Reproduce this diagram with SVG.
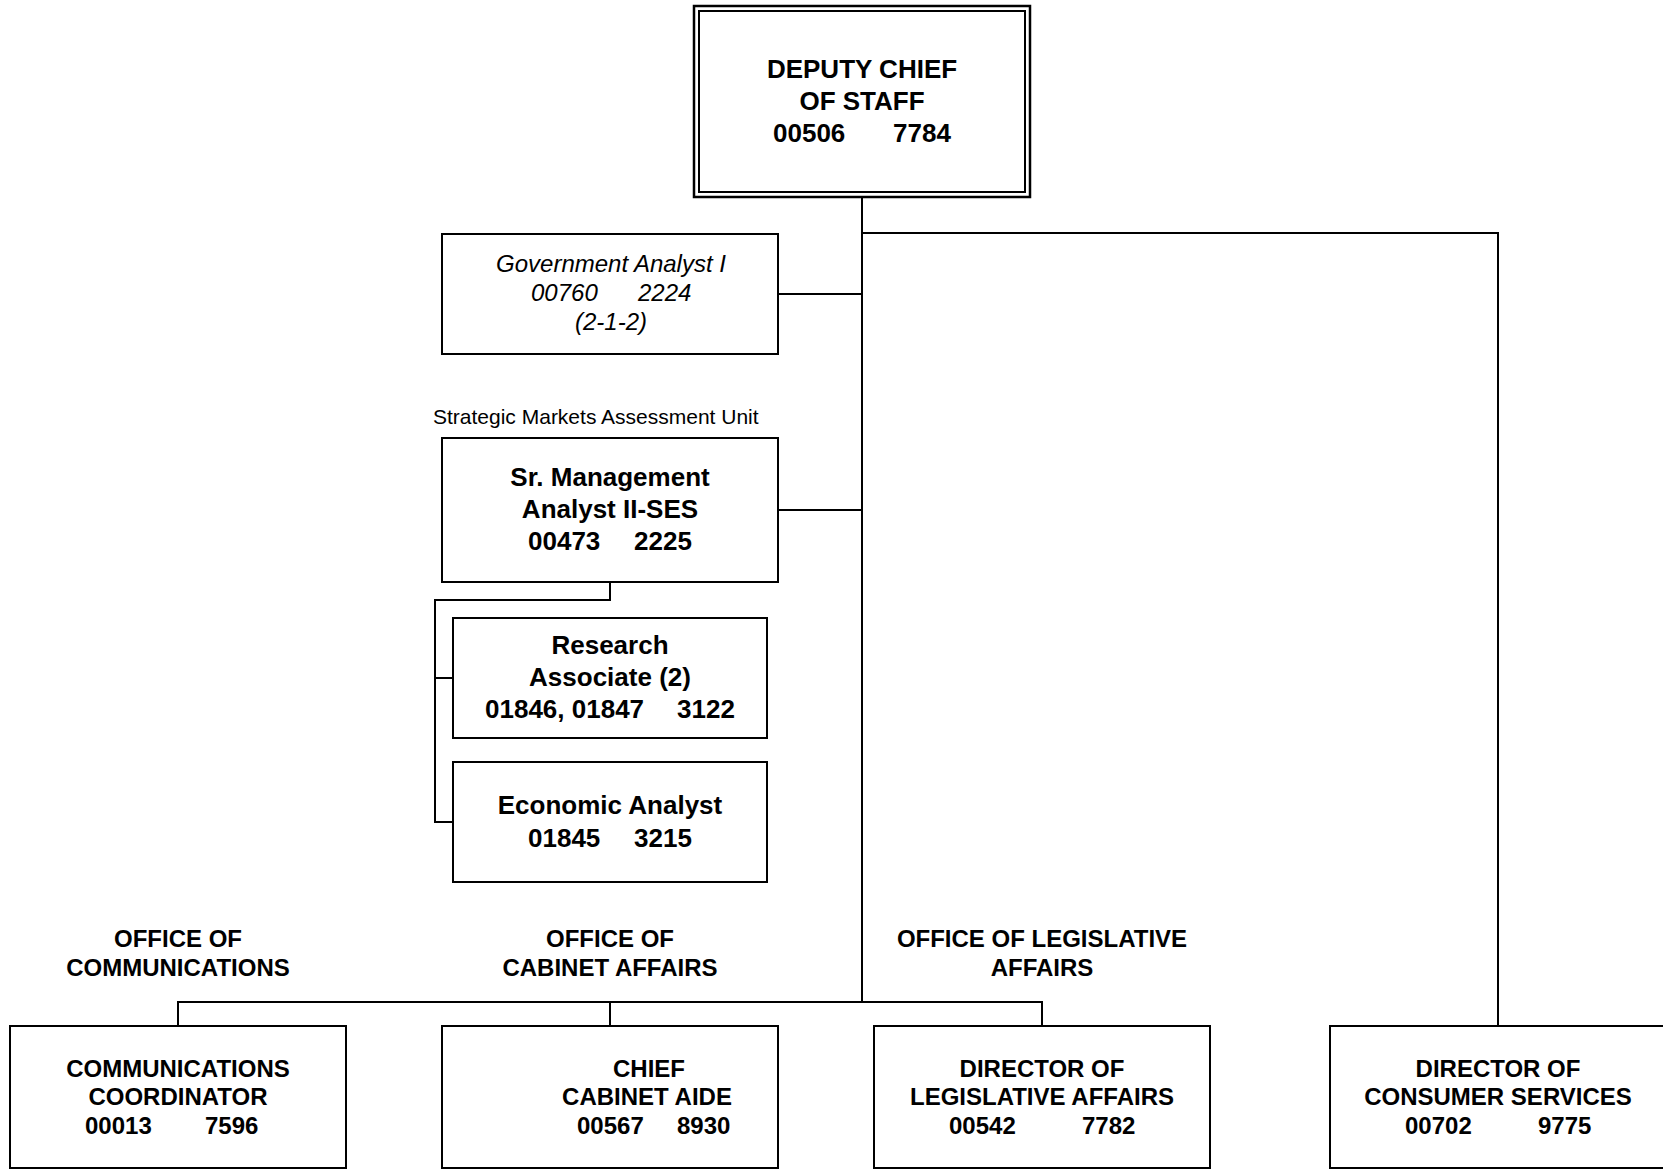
<svg xmlns="http://www.w3.org/2000/svg" width="1663" height="1170" viewBox="0 0 1663 1170">
  <style>
    .box { fill: #ffffff; stroke: #000000; stroke-width: 2; }
    .line { fill: none; stroke: #000000; stroke-width: 2; }
    text { font-family: "Liberation Sans", Arial, sans-serif; fill: #000000; }
    .b26 { font-size: 26px; font-weight: bold; }
    .b24 { font-size: 24px; font-weight: bold; }
    .it { font-size: 24px; font-style: italic; }
    .unit { font-size: 21px; }
    .c { text-anchor: middle; }
  </style>
  <rect width="1663" height="1170" fill="#ffffff"/>

  <!-- reporting lines -->
  <g id="connectors">
    <path class="line" d="M862,197 V1002"/>
    <path class="line" d="M862,233 H1498 V1026"/>
    <path class="line" d="M778,294 H862"/>
    <path class="line" d="M778,510 H862"/>
    <path class="line" d="M610,582 V600 H435 V822 H453"/>
    <path class="line" d="M435,678 H453"/>
    <path class="line" d="M178,1026 V1002 H1042 V1026"/>
    <path class="line" d="M610,1002 V1026"/>
  </g>

  <!-- top position, double border -->
  <g id="deputy-chief-of-staff">
    <rect x="694" y="6" width="336" height="191" fill="#ffffff" stroke="#000" stroke-width="2.5"/>
    <rect x="699" y="11" width="326" height="181" fill="none" stroke="#000" stroke-width="2"/>
    <text class="b26 c" x="862" y="78">DEPUTY CHIEF</text>
    <text class="b26 c" x="862" y="110">OF STAFF</text>
    <text class="b26" x="773" y="142">00506</text>
    <text class="b26" x="893" y="142">7784</text>
  </g>

  <g id="government-analyst">
    <rect class="box" x="442" y="234" width="336" height="120"/>
    <text class="it c" x="611" y="272">Government Analyst I</text>
    <text class="it" x="531" y="301">00760</text>
    <text class="it" x="638" y="301">2224</text>
    <text class="it c" x="611" y="330">(2-1-2)</text>
  </g>

  <text id="unit-label" class="unit" x="433" y="424">Strategic Markets Assessment Unit</text>

  <g id="sr-management-analyst">
    <rect class="box" x="442" y="438" width="336" height="144"/>
    <text class="b26 c" x="610" y="486">Sr. Management</text>
    <text class="b26 c" x="610" y="518">Analyst II-SES</text>
    <text class="b26" x="528" y="550">00473</text>
    <text class="b26" x="634" y="550">2225</text>
  </g>

  <g id="research-associate">
    <rect class="box" x="453" y="618" width="314" height="120"/>
    <text class="b26 c" x="610" y="654">Research</text>
    <text class="b26 c" x="610" y="686">Associate (2)</text>
    <text class="b26" x="485" y="718">01846, 01847</text>
    <text class="b26" x="677" y="718">3122</text>
  </g>

  <g id="economic-analyst">
    <rect class="box" x="453" y="762" width="314" height="120"/>
    <text class="b26 c" x="610" y="814">Economic Analyst</text>
    <text class="b26" x="528" y="847">01845</text>
    <text class="b26" x="634" y="847">3215</text>
  </g>

  <!-- office headings -->
  <g id="office-labels">
    <text class="b24 c" x="178" y="947">OFFICE OF</text>
    <text class="b24 c" x="178" y="976">COMMUNICATIONS</text>
    <text class="b24 c" x="610" y="947">OFFICE OF</text>
    <text class="b24 c" x="610" y="976">CABINET AFFAIRS</text>
    <text class="b24 c" x="1042" y="947">OFFICE OF LEGISLATIVE</text>
    <text class="b24 c" x="1042" y="976">AFFAIRS</text>
  </g>

  <g id="communications-coordinator">
    <rect class="box" x="10" y="1026" width="336" height="142"/>
    <text class="b24 c" x="178" y="1077">COMMUNICATIONS</text>
    <text class="b24 c" x="178" y="1105">COORDINATOR</text>
    <text class="b24" x="85" y="1134">00013</text>
    <text class="b24" x="205" y="1134">7596</text>
  </g>

  <g id="chief-cabinet-aide">
    <rect class="box" x="442" y="1026" width="336" height="142"/>
    <text class="b24 c" x="649" y="1077">CHIEF</text>
    <text class="b24 c" x="647" y="1105">CABINET AIDE</text>
    <text class="b24" x="577" y="1134">00567</text>
    <text class="b24" x="677" y="1134">8930</text>
  </g>

  <g id="director-legislative-affairs">
    <rect class="box" x="874" y="1026" width="336" height="142"/>
    <text class="b24 c" x="1042" y="1077">DIRECTOR OF</text>
    <text class="b24 c" x="1042" y="1105">LEGISLATIVE AFFAIRS</text>
    <text class="b24" x="949" y="1134">00542</text>
    <text class="b24" x="1082" y="1134">7782</text>
  </g>

  <g id="director-consumer-services">
    <rect class="box" x="1330" y="1026" width="340" height="142"/>
    <text class="b24 c" x="1498" y="1077">DIRECTOR OF</text>
    <text class="b24 c" x="1498" y="1105">CONSUMER SERVICES</text>
    <text class="b24" x="1405" y="1134">00702</text>
    <text class="b24" x="1538" y="1134">9775</text>
  </g>
</svg>
